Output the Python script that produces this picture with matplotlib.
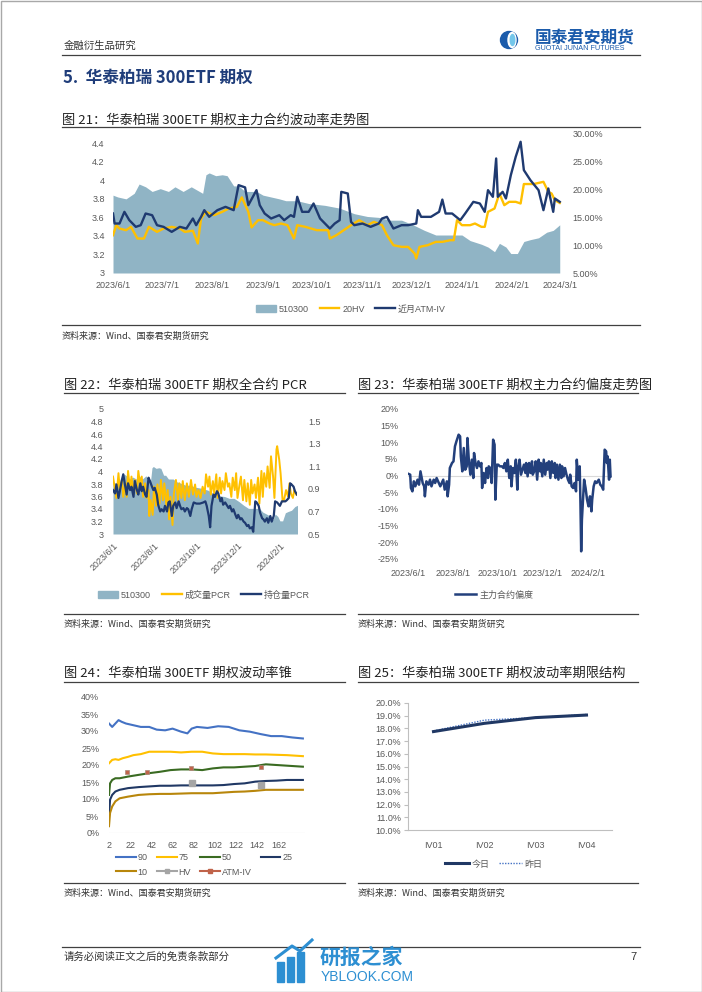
import numpy as np
import pandas as pd
import matplotlib
matplotlib.use("Agg")
import matplotlib.pyplot as plt
from matplotlib.lines import Line2D
from matplotlib.patches import Patch, Circle, Ellipse, Rectangle

plt.rcParams["font.family"] = ["Liberation Sans", "Noto Sans CJK SC", "DejaVu Sans"]
plt.rcParams["axes.unicode_minus"] = False
CJK = ["Noto Sans CJK SC", "DejaVu Sans"]

W, H = 702, 992
BASE = pd.Timestamp("2023-06-01")   # day 0 of the date series below

# ---- fig 21: 510300 close (left axis), 20HV and near-month ATM IV in % (right) ----
etf_close = [(0, 3.84), (3, 3.82), (8, 3.80), (13, 3.86), (16, 3.96), (20, 3.93),
             (24, 3.88), (29, 3.91), (34, 3.88), (38, 3.93), (43, 3.88), (48, 3.93),
             (52, 3.89), (55, 3.86), (57, 4.06), (59, 4.08), (63, 4.05), (67, 4.06),
             (70, 4.05), (74, 3.94), (77, 3.94), (81, 3.88), (88, 3.88), (92, 3.84),
             (97, 3.82), (102, 3.80), (106, 3.78), (113, 3.78), (120, 3.75), (130, 3.73),
             (139, 3.70), (148, 3.64), (156, 3.61), (163, 3.60), (170, 3.57), (177, 3.57),
             (184, 3.52), (191, 3.46), (198, 3.41), (207, 3.41), (214, 3.41), (219, 3.35),
             (226, 3.31), (230, 3.28), (234, 3.23), (237, 3.32), (241, 3.28), (244, 3.21),
             (248, 3.21), (252, 3.34), (256, 3.36), (261, 3.38), (266, 3.44), (270, 3.46),
             (274, 3.52)]
hv20 = [(0, 11.8), (2, 13.6), (4, 13.0), (8, 12.7), (11, 13.3), (15, 11.2), (19, 11.2),
        (22, 13.3), (27, 12.4), (31, 13.0), (36, 13.3), (41, 13.0), (44, 12.4), (49, 12.6),
        (52, 10.3), (54, 14.8), (57, 16.0), (62, 15.4), (67, 16.0), (71, 16.6), (76, 16.9),
        (79, 18.6), (83, 16.0), (85, 13.2), (89, 14.5), (92, 14.5), (96, 13.9), (99, 13.6),
        (103, 13.9), (107, 13.6), (111, 11.2), (113, 13.6), (118, 13.3), (125, 12.7),
        (132, 12.7), (133, 11.2), (137, 11.8), (141, 12.6), (146, 13.6), (151, 14.5),
        (156, 13.6), (160, 14.2), (165, 13.6), (168, 11.8), (172, 10.0), (177, 9.7),
        (181, 9.7), (185, 8.5), (186, 7.6), (188, 9.7), (193, 10.0), (198, 10.6),
        (202, 10.6), (207, 10.9), (209, 10.9), (211, 14.5), (214, 13.6), (219, 13.6),
        (222, 13.9), (226, 13.3), (228, 13.3), (230, 16.0), (234, 16.6), (237, 19.3),
        (240, 17.2), (243, 17.8), (247, 17.8), (250, 17.5), (252, 21.0), (258, 21.0),
        (264, 21.4), (267, 19.6), (269, 19.3), (271, 18.1), (274, 17.6)]
atm_iv = [(0, 15.7), (1, 13.9), (4, 13.9), (7, 16.0), (10, 14.5), (14, 13.3), (17, 13.6),
          (20, 15.7), (24, 15.4), (27, 13.6), (31, 13.3), (36, 12.4), (41, 13.3), (45, 13.0),
          (49, 14.8), (51, 13.6), (54, 15.1), (56, 16.3), (59, 15.1), (64, 16.3), (69, 16.9),
          (74, 16.3), (77, 20.8), (81, 20.4), (83, 17.2), (88, 19.9), (90, 17.2), (93, 15.7),
          (97, 14.8), (102, 15.4), (105, 14.5), (109, 15.4), (111, 15.1), (113, 18.7),
          (116, 16.0), (120, 16.0), (123, 17.5), (127, 14.8), (133, 13.0), (136, 13.9),
          (139, 14.5), (140, 19.6), (144, 19.3), (146, 14.2), (148, 13.6), (153, 13.9),
          (158, 13.3), (163, 13.9), (165, 14.8), (168, 15.1), (172, 13.0), (177, 13.6),
          (181, 13.6), (186, 13.9), (187, 16.3), (189, 15.1), (195, 15.1), (200, 16.0),
          (202, 18.2), (204, 15.7), (208, 15.7), (213, 14.5), (216, 15.7), (221, 17.8),
          (225, 17.5), (228, 16.0), (230, 19.9), (233, 18.7), (235, 25.6), (236, 18.7),
          (239, 19.6), (241, 18.4), (244, 22.6), (247, 25.9), (250, 28.6), (252, 23.5),
          (256, 21.7), (261, 19.9), (264, 16.3), (267, 20.2), (270, 16.0), (271, 18.4),
          (274, 17.8)]
ticks21 = ["2023/6/1", "2023/7/1", "2023/8/1", "2023/9/1", "2023/10/1", "2023/11/1",
           "2023/12/1", "2024/1/1", "2024/2/1", "2024/3/1"]

# ---- fig 22: volume PCR and open-interest PCR (right axis) ----
vol_pcr = [(0, 1.01), (3, 0.89), (5, 0.82), (8, 1.04), (10, 0.89), (13, 0.98), (15, 0.83),
           (18, 0.95), (20, 0.83), (22, 1.06), (25, 0.89), (27, 1.01), (30, 0.85), (32, 0.98),
           (35, 0.86), (37, 1.06), (40, 0.92), (42, 1.01), (44, 0.83), (47, 0.95), (49, 0.82),
           (52, 0.89), (53, 0.66), (55, 0.80), (58, 0.67), (60, 0.92), (63, 0.75), (65, 0.94),
           (68, 0.77), (70, 0.98), (73, 0.80), (75, 0.95), (78, 0.75), (80, 0.89), (82, 0.63),
           (84, 0.83), (87, 0.58), (89, 0.86), (92, 0.98), (95, 0.80), (97, 0.95), (100, 0.82),
           (102, 0.97), (105, 0.80), (108, 0.95), (111, 0.83), (114, 0.98), (117, 0.85),
           (120, 0.94), (122, 0.83), (125, 0.89), (128, 0.82), (131, 0.92), (134, 0.86),
           (136, 1.03), (139, 0.92), (141, 1.01), (143, 0.85), (146, 0.97), (148, 0.86),
           (151, 1.03), (153, 0.82), (156, 1.00), (158, 0.86), (160, 0.97), (163, 0.89),
           (165, 1.04), (168, 0.92), (170, 0.95), (173, 0.83), (175, 1.00), (178, 0.89),
           (180, 1.04), (182, 0.82), (185, 0.94), (187, 1.01), (190, 0.80), (192, 0.98),
           (195, 0.79), (197, 0.95), (200, 0.76), (202, 0.98), (204, 0.86), (207, 0.94),
           (209, 0.82), (212, 1.00), (214, 0.77), (217, 1.06), (219, 0.83), (221, 1.04),
           (224, 0.92), (226, 1.10), (229, 0.91), (231, 1.19), (234, 1.01), (236, 0.82),
           (239, 1.25), (240, 1.28), (243, 1.16), (245, 1.04), (248, 0.79), (250, 0.80),
           (253, 0.89), (256, 0.83), (258, 0.95), (260, 0.86), (263, 0.82), (265, 0.89),
           (268, 0.85)]
oi_pcr = [(0, 0.89), (3, 0.86), (5, 0.94), (8, 0.82), (10, 0.88), (13, 0.98), (15, 1.03),
          (18, 0.92), (20, 0.85), (22, 0.95), (25, 0.89), (27, 0.92), (30, 0.83), (32, 0.97),
          (35, 0.89), (37, 0.85), (40, 0.95), (42, 0.88), (44, 0.92), (47, 0.85), (49, 0.83),
          (52, 1.00), (54, 0.97), (57, 0.92), (59, 0.89), (61, 0.91), (64, 0.85), (66, 0.76),
          (69, 0.70), (71, 0.72), (74, 0.70), (76, 0.75), (79, 0.70), (81, 0.78), (83, 0.79),
          (86, 0.66), (88, 0.75), (91, 0.78), (93, 0.73), (96, 0.79), (98, 0.75), (100, 0.72),
          (103, 0.73), (105, 0.70), (108, 0.73), (110, 0.72), (113, 0.66), (115, 0.72),
          (118, 0.78), (122, 0.77), (127, 0.77), (132, 0.78), (135, 0.79), (137, 0.75),
          (140, 0.66), (142, 0.56), (144, 0.75), (147, 0.85), (149, 0.83), (152, 0.88),
          (154, 0.86), (157, 0.79), (159, 0.82), (161, 0.76), (164, 0.78), (166, 0.76),
          (169, 0.73), (171, 0.75), (174, 0.70), (176, 0.72), (179, 0.67), (181, 0.64),
          (183, 0.67), (186, 0.63), (188, 0.64), (191, 0.61), (193, 0.60), (196, 0.57),
          (198, 0.58), (200, 0.55), (203, 0.56), (205, 0.52), (208, 0.79), (210, 0.78),
          (213, 0.75), (215, 0.69), (218, 0.64), (220, 0.63), (222, 0.61), (225, 0.64),
          (227, 0.60), (230, 0.66), (232, 0.61), (235, 0.66), (237, 0.79), (240, 0.78),
          (244, 0.75), (247, 0.79), (249, 0.79), (252, 0.79), (254, 0.80), (257, 0.82),
          (259, 0.95), (261, 0.94), (264, 0.92), (266, 0.88), (269, 0.85)]
ticks22 = ["2023/6/1", "2023/8/1", "2023/10/1", "2023/12/1", "2024/2/1"]

# ---- fig 23: main-contract skew, % ----
skew = [(1, 0.5), (3, 0.3), (4, -3.7), (6, -4.7), (8, -1.7), (10, -3.2), (13, -1.2),
        (15, -2.7), (17, 1.3), (20, -2.2), (22, -3.2), (23, -6.2), (25, -1.7), (28, -2.7),
        (30, -1.2), (32, -3.2), (35, -1.2), (37, -2.2), (39, -0.7), (41, -1.7), (44, -3.2),
        (46, -2.2), (48, -1.2), (50, -4.2), (53, -1.7), (54, -6.2), (56, -2.7), (57, 2.3),
        (60, 3.8), (62, 4.3), (64, 8.8), (66, 10.3), (69, 12.3), (71, 11.8), (72, 5.8),
        (74, 1.3), (76, 8.3), (78, 1.8), (80, 2.8), (81, 11.3), (83, 4.3), (85, 0.3),
        (87, 4.8), (89, -0.7), (90, 6.8), (92, 3.8), (94, 2.3), (96, 4.3), (98, 2.8),
        (100, 3.8), (101, -3.7), (103, 0.8), (105, -2.2), (107, 2.3), (109, -0.7), (110, 2.8),
        (112, 2.3), (114, -2.2), (116, 10.8), (118, 9.3), (119, -7.2), (121, 3.3), (123, 3.3),
        (125, 2.8), (128, 2.8), (130, 2.3), (132, 3.8), (134, 1.3), (136, 4.8), (138, -0.7),
        (140, 2.8), (141, -3.2), (143, 2.3), (145, 0.8), (147, 4.8), (149, -4.2), (150, 1.8),
        (152, 4.8), (154, 0.3), (156, 1.8), (158, 3.3), (160, 0.8), (161, 3.8), (163, -0.2),
        (165, 3.8), (167, 0.8), (169, 4.3), (170, 0.3), (172, 1.3), (174, 4.3), (176, -1.2),
        (178, 4.8), (180, 1.3), (181, 3.8), (183, -0.2), (185, 4.8), (187, 0.3), (189, 3.8),
        (190, 1.8), (192, 4.3), (194, -0.7), (196, 4.3), (198, 0.8), (200, 3.8), (201, -0.7),
        (203, 3.3), (205, -1.2), (207, 3.3), (209, -0.7), (210, 2.8), (212, -0.2), (214, 2.3),
        (216, 0.3), (218, -1.2), (220, -2.2), (221, 0.3), (223, -3.2), (225, -3.7), (227, -2.2),
        (229, -4.7), (230, 4.8), (232, -1.2), (234, 2.8), (235, -8.2), (236, -22.7),
        (237, -13.2), (240, -1.2), (242, -3.7), (244, -7.2), (246, -9.2), (248, -6.2),
        (250, -10.7), (251, -7.2), (253, -3.2), (255, -1.7), (257, -2.2), (260, -1.2),
        (262, -2.7), (264, -3.2), (266, -4.2), (268, 7.8), (270, 7.3), (271, 3.8), (272, 5.8),
        (274, -1.2), (275, 4.8), (276, -0.2)]

# ---- fig 24: volatility cone, % by days to expiry ----
cone_90 = [(2, 32.2), (5, 31.2), (8, 32.2), (11, 33.2), (14, 32.7), (18, 32.2), (25, 31.7),
           (32, 31.2), (40, 31.2), (47, 30.4), (55, 30.2), (62, 30.7), (70, 29.8), (76, 29.3),
           (80, 30.7), (85, 31.2), (95, 30.9), (105, 31.4), (115, 31.2), (125, 30.2),
           (135, 29.8), (145, 29.1), (155, 28.5), (165, 28.5), (175, 28.1), (185, 27.8)]
cone_75 = [(2, 20.5), (5, 21.5), (8, 21.7), (11, 21.5), (15, 22.0), (20, 22.4), (25, 22.9),
           (32, 23.2), (40, 23.9), (50, 23.9), (60, 23.9), (70, 23.7), (80, 23.9), (90, 23.9),
           (100, 23.4), (110, 23.2), (120, 23.2), (130, 23.2), (140, 23.1), (150, 23.1),
           (160, 23.0), (170, 22.9), (185, 22.6)]
cone_50 = [(2, 11.2), (3, 14.6), (5, 15.6), (8, 16.1), (12, 16.1), (20, 16.6), (30, 17.1),
           (40, 17.6), (50, 18.0), (60, 18.5), (70, 18.7), (80, 18.7), (90, 18.5), (100, 19.0),
           (110, 19.3), (120, 19.3), (130, 19.5), (140, 19.7), (150, 20.2), (160, 20.0),
           (170, 19.8), (185, 19.5)]
cone_25 = [(2, 4.9), (3, 9.8), (5, 11.2), (8, 12.2), (12, 12.7), (20, 13.2), (30, 13.5),
           (40, 13.7), (50, 13.9), (60, 13.9), (70, 14.0), (80, 14.0), (90, 14.0), (100, 14.0),
           (110, 14.1), (120, 14.4), (130, 14.6), (140, 15.1), (150, 15.3), (160, 15.4),
           (170, 15.6), (185, 15.6)]
cone_10 = [(2, 2.0), (3, 5.9), (5, 7.8), (8, 9.3), (12, 10.2), (20, 10.7), (30, 11.2),
           (40, 11.4), (50, 11.5), (60, 11.5), (70, 11.6), (80, 11.7), (90, 11.7), (100, 11.7),
           (110, 11.9), (120, 12.1), (130, 12.2), (140, 12.4), (150, 12.7), (160, 12.7),
           (170, 12.7), (185, 12.7)]
cone_hv = [(80, 14.8), (145, 14.1)]
cone_atm = [(19, 18.0), (38, 18.0), (79, 19.0), (145, 19.3)]
ticks24 = [2, 22, 42, 62, 82, 102, 122, 142, 162]

# ---- fig 25: IV term structure, % ----
iv_terms = ["IV01", "IV02", "IV03", "IV04"]
iv_today = [17.75, 18.4, 18.85, 19.05]
iv_yest = [17.8, 18.65, 18.85, 19.1]

C_AREA = "#90b4c5"
C_YEL = "#ffc000"
C_NAVY = "#1f3a70"
TXT = "#595959"
RULE = "#404040"
FS = 6.5


def fbox(x0, y0, x1, y1):
    return [x0 / W, 1 - y1 / H, (x1 - x0) / W, (y1 - y0) / H]


def series(pairs):
    d, v = zip(*pairs)
    return BASE + pd.to_timedelta(list(d), unit="D"), np.array(v)


def bare(ax):
    for s in ax.spines.values():
        s.set_visible(False)
    ax.set_facecolor("none")
    ax.tick_params(length=0, labelsize=FS, colors=TXT)


def date_ticks(ax, labels, rot=0):
    ax.set_xticks(pd.to_datetime(labels, format="%Y/%m/%d"))
    if rot:
        ax.set_xticklabels(labels, rotation=rot, ha="right", va="top",
                           rotation_mode="anchor", fontsize=7)
    else:
        ax.set_xticklabels(labels)


fig = plt.figure(figsize=(W / 100, H / 100), dpi=100)

# page decoration layer in pixel coordinates
deco = fig.add_axes([0, 0, 1, 1])
deco.set_xlim(0, W)
deco.set_ylim(H, 0)
deco.axis("off")
deco.add_patch(Rectangle((0.5, 0.5), W - 1, H - 1, fill=False, ec="#a8a8a8", lw=1))


def rule(x0, x1, y):
    deco.plot([x0, x1], [y, y], color=RULE, lw=0.9)


def note(x, y, s, **kw):
    kw.setdefault("family", CJK)
    deco.text(x, y, s, va="center", ha="left", **kw)


# header
note(64, 46, "金融衍生品研究", fontsize=7.5, color="#333333")
deco.add_patch(Circle((509, 40), 8.5, color="#1b5bab"))
deco.add_patch(Ellipse((512, 40), 8, 15, color="white"))
deco.add_patch(Ellipse((512.5, 40), 4.5, 11, color="#73c6ea"))
note(535, 37.5, "国泰君安期货", fontsize=12, color="#1b5bab", fontweight="bold")
note(535, 49, "GUOTAI JUNAN FUTURES", fontsize=5.2, color="#1b5bab",
     family=["Liberation Sans"])
rule(62, 640, 55)
note(63, 78, "5.  华泰柏瑞 300ETF 期权", fontsize=12, color="#1f3d7a", fontweight="bold")

# chart titles, rules and sources
note(62, 120, "图 21：华泰柏瑞 300ETF 期权主力合约波动率走势图", fontsize=9.5, color="#222222")
rule(62, 640, 127)
rule(62, 640, 325)
note(62, 336, "资料来源：Wind、国泰君安期货研究", fontsize=6.5, color="#333333")

note(64, 385, "图 22：华泰柏瑞 300ETF 期权全合约 PCR", fontsize=9.5, color="#222222")
note(358, 385, "图 23：华泰柏瑞 300ETF 期权主力合约偏度走势图", fontsize=9.5, color="#222222")
rule(64, 345, 393)
rule(358, 638, 393)
rule(64, 345, 614)
rule(358, 638, 614)
note(64, 624, "资料来源：Wind、国泰君安期货研究", fontsize=6.5, color="#333333")
note(358, 624, "资料来源：Wind、国泰君安期货研究", fontsize=6.5, color="#333333")

note(64, 673, "图 24：华泰柏瑞 300ETF 期权波动率锥", fontsize=9.5, color="#222222")
note(358, 673, "图 25：华泰柏瑞 300ETF 期权波动率期限结构", fontsize=9.5, color="#222222")
rule(64, 345, 682)
rule(358, 638, 682)
rule(64, 345, 883)
rule(358, 638, 883)
note(64, 893, "资料来源：Wind、国泰君安期货研究", fontsize=6.5, color="#333333")
note(358, 893, "资料来源：Wind、国泰君安期货研究", fontsize=6.5, color="#333333")

# footer
rule(62, 640, 947)
note(64, 957, "请务必阅读正文之后的免责条款部分", fontsize=7.5, color="#333333")
deco.text(637, 957, "7", fontsize=8, color="#333333", ha="right", va="center")
for bx, bt in [(277, 962), (287, 957), (297, 952)]:
    deco.add_patch(Rectangle((bx, bt), 7, 982 - bt, color="#2d8fd2"))
deco.plot([276, 292, 300, 312], [958, 946, 951, 940], color="#2d8fd2", lw=2.2)
note(320, 957, "研报之家", fontsize=15, color="#2d8fd2", fontweight="bold")
note(321, 977, "YBLOOK.COM", fontsize=10, color="#2d8fd2", family=["Liberation Sans"])

# ---------------- fig 21 ----------------
ax = fig.add_axes(fbox(113, 134, 563, 273))
d, v = series(etf_close)
ax.fill_between(d, 3, v, color=C_AREA, lw=0)
ax.set_ylim(3, 4.5)
ax.set_yticks([3, 3.2, 3.4, 3.6, 3.8, 4, 4.2, 4.4])
ax.set_yticklabels(["3", "3.2", "3.4", "3.6", "3.8", "4", "4.2", "4.4"])
ax.set_xlim(BASE, BASE + pd.Timedelta(days=276))
date_ticks(ax, ticks21)
bare(ax)
ax.tick_params(axis="y", pad=6)
ax.tick_params(axis="x", pad=6)
ax2 = ax.twinx()
d, v = series(hv20)
ax2.plot(d, v, color=C_YEL, lw=1.7)
d, v = series(atm_iv)
ax2.plot(d, v, color=C_NAVY, lw=1.7)
ax2.set_ylim(5, 30)
ax2.set_yticks([5, 10, 15, 20, 25, 30])
ax2.set_yticklabels([f"{t:.2f}%" for t in [5, 10, 15, 20, 25, 30]])
bare(ax2)
ax2.tick_params(axis="y", pad=7)
fig.legend([Patch(color=C_AREA), Line2D([], [], color=C_YEL, lw=1.7),
            Line2D([], [], color=C_NAVY, lw=1.7)],
           ["510300", "20HV", "近月ATM-IV"], loc="center",
           bbox_to_anchor=(351 / W, 1 - 309 / H), ncol=3, frameon=False,
           fontsize=FS, labelcolor=TXT, handlelength=2.2, handleheight=0.8,
           handletextpad=0.3, columnspacing=1.2)

# ---------------- fig 22 ----------------
ax = fig.add_axes(fbox(113, 409, 297, 534))
d, v = series(etf_close)
ax.fill_between(d, 3, v, color=C_AREA, lw=0)
ax.set_ylim(3, 5)
ax.set_yticks(np.round(np.arange(3, 5.01, 0.2), 1))
ax.set_yticklabels(["3", "3.2", "3.4", "3.6", "3.8", "4", "4.2", "4.4", "4.6", "4.8", "5"])
ax.set_xlim(BASE, BASE + pd.Timedelta(days=269))
date_ticks(ax, ticks22, rot=45)
bare(ax)
ax.tick_params(axis="y", pad=7)
ax.tick_params(axis="x", pad=5)
ax2 = ax.twinx()
d, v = series(vol_pcr)
ax2.plot(d, v, color=C_YEL, lw=1.4)
d, v = series(oi_pcr)
ax2.plot(d, v, color=C_NAVY, lw=1.6)
ax2.set_ylim(0.5, 1.61)
ax2.set_yticks([0.5, 0.7, 0.9, 1.1, 1.3, 1.5])
ax2.set_yticklabels(["0.5", "0.7", "0.9", "1.1", "1.3", "1.5"])
bare(ax2)
ax2.tick_params(axis="y", pad=8)
fig.legend([Patch(color=C_AREA), Line2D([], [], color=C_YEL, lw=1.7),
            Line2D([], [], color=C_NAVY, lw=1.7)],
           ["510300", "成交量PCR", "持仓量PCR"], loc="center",
           bbox_to_anchor=(204 / W, 1 - 595 / H), ncol=3, frameon=False,
           fontsize=FS, labelcolor=TXT, handlelength=2.2, handleheight=0.8,
           handletextpad=0.3, columnspacing=1.2)

# ---------------- fig 23 ----------------
ax = fig.add_axes(fbox(408, 409, 612, 559))
ax.axhline(0, color="#d9d9d9", lw=0.8)
d, v = series(skew)
ax.plot(d, v, color="#23407c", lw=1.8)
ax.set_ylim(-25, 20)
yt = [-25, -20, -15, -10, -5, 0, 5, 10, 15, 20]
ax.set_yticks(yt)
ax.set_yticklabels([f"{t}%" for t in yt])
ax.set_xlim(BASE, BASE + pd.Timedelta(days=278))
date_ticks(ax, ticks22)
bare(ax)
ax.tick_params(axis="y", pad=7)
ax.tick_params(axis="x", pad=7)
fig.legend([Line2D([], [], color="#23407c", lw=1.8)], ["主力合约偏度"], loc="center",
           bbox_to_anchor=(494 / W, 1 - 595 / H), frameon=False, fontsize=FS,
           labelcolor=TXT, handlelength=2.4, handletextpad=0.3)

# ---------------- fig 24 ----------------
ax = fig.add_axes(fbox(109, 697, 305, 833))
cone = [("90", cone_90, "#4472c4"), ("75", cone_75, "#ffc000"), ("50", cone_50, "#3a6b22"),
        ("25", cone_25, "#203864"), ("10", cone_10, "#b8860b")]
hd = {}
for name, pairs, col in cone:
    x, y = zip(*pairs)
    hd[name] = ax.plot(x, y, color=col, lw=1.5)[0]
x, y = zip(*cone_hv)
ax.plot(x, y, ls="none", marker="s", ms=4.5, color="#a5a5a5")
x, y = zip(*cone_atm)
ax.plot(x, y, ls="none", marker="s", ms=3.2, color="#c0634a", mec="#a98a7c", mew=0.5)
ax.axhline(0, color="#d9d9d9", lw=0.8)
ax.set_xlim(2, 187)
ax.set_ylim(0, 40)
ax.set_xticks(ticks24)
ax.set_xticklabels([str(t) for t in ticks24])
ax.set_yticks(range(0, 41, 5))
ax.set_yticklabels([f"{t}%" for t in range(0, 41, 5)])
bare(ax)
ax.tick_params(axis="y", pad=7)
ax.tick_params(axis="x", pad=6)
h_hv = Line2D([], [], color="#a5a5a5", lw=1.5, marker="s", ms=3.5)
h_atm = Line2D([], [], color="#c0634a", lw=1.5, marker="s", ms=2.5)
fig.legend([hd["90"], hd["10"], hd["75"], h_hv, hd["50"], h_atm, hd["25"]],
           ["90", "10", "75", "HV", "50", "ATM-IV", "25"], loc="upper left",
           bbox_to_anchor=(108 / W, 1 - 845 / H), ncol=4, frameon=False, fontsize=FS,
           labelcolor=TXT, handlelength=2.2, handletextpad=0.2, columnspacing=1.0,
           labelspacing=0.6)

# ---------------- fig 25 ----------------
ax = fig.add_axes(fbox(408, 703, 612, 830))
xi = np.arange(len(iv_terms))
ax.plot(xi, iv_yest, color="#4472c4", lw=1.0, ls=(0, (1, 1)))
ax.plot(xi, iv_today, color="#203864", lw=2.2)
ax.set_xlim(-0.5, len(iv_terms) - 0.5)
ax.set_ylim(10, 20)
ax.set_xticks(xi)
ax.set_xticklabels(iv_terms)
ax.set_yticks(range(10, 21))
ax.set_yticklabels([f"{t:.1f}%" for t in range(10, 21)])
for s in ["top", "right"]:
    ax.spines[s].set_visible(False)
for s in ["left", "bottom"]:
    ax.spines[s].set_color("#bfbfbf")
    ax.spines[s].set_linewidth(0.8)
ax.set_facecolor("none")
ax.tick_params(labelsize=FS, colors=TXT)
ax.tick_params(axis="y", length=3, color="#bfbfbf", pad=2)
ax.tick_params(axis="x", length=0, pad=8)
fig.legend([Line2D([], [], color="#203864", lw=2.2),
            Line2D([], [], color="#4472c4", lw=1.0, ls=(0, (1, 1)))],
           ["今日", "昨日"], loc="center", bbox_to_anchor=(494 / W, 1 - 864 / H), ncol=2,
           frameon=False, fontsize=FS, labelcolor=TXT, handlelength=2.6,
           handletextpad=0.3, columnspacing=1.0)

fig.savefig("out.png", dpi=100)
